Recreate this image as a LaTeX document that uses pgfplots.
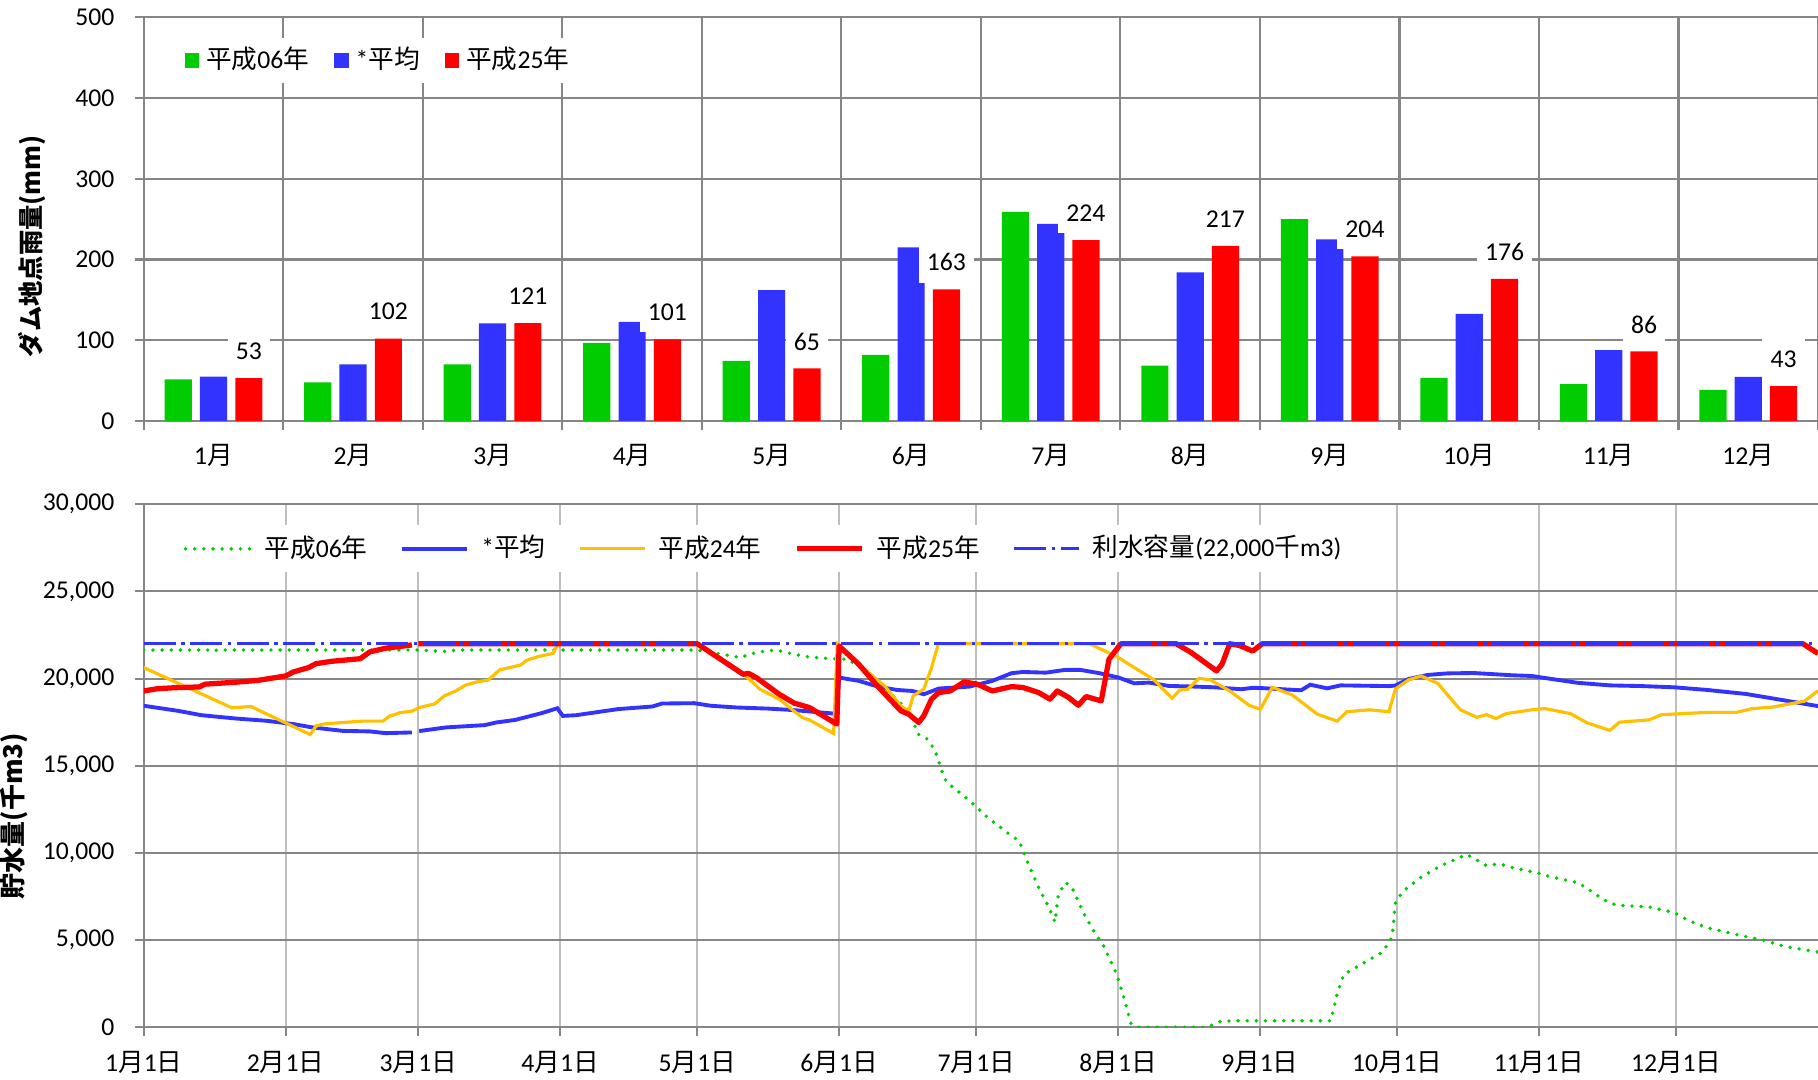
\documentclass[border=0pt]{standalone}
\usepackage{fontspec}
\setmainfont{Carlito}
\newfontfamily\jp{Noto Sans CJK JP}
\usepackage{pgfplots}
\pgfplotsset{compat=1.18}
\definecolor{cgreen}{RGB}{0,204,0}
\definecolor{cblue}{RGB}{51,51,255}
\definecolor{cred}{RGB}{255,0,0}
\definecolor{corange}{RGB}{255,192,0}
\definecolor{gridc}{RGB}{134,134,134}
\definecolor{gridl}{RGB}{190,190,190}
\newcommand{\fs}{\fontsize{7.3}{8.8}\selectfont}
\begin{document}
\begin{tikzpicture}
\useasboundingbox (0,0) rectangle (181.8mm,108mm);
\pgfplotsset{
  /pgf/number format/assume math mode=true,
  /pgf/number format/1000 sep={,},
  scaled ticks=false,
  every axis/.append style={font=\fs},
  tick label style={font=\fs},
  yticklabel style={anchor=east, inner sep=0pt, xshift=-1.98mm},
  xticklabel style={anchor=center, inner sep=0pt, yshift=-2.6mm},
  axis x line*=bottom, axis y line*=left,
  axis line style={gridc, line width=0.6pt},
  tick align=outside,
  tick style={gridc, line width=0.6pt},
  major tick length=0.9mm, minor tick length=0.9mm,
}
%================ TOP: rainfall =================
\begin{axis}[
  at={(14.38mm,65.91mm)}, anchor=south west,
  scale only axis, width=167.42mm, height=40.35mm,
  xmin=0, xmax=12, ymin=0, ymax=500,
  ytick={0,100,200,300,400,500},
  xtick={0.5,1.5,2.5,3.5,4.5,5.5,6.5,7.5,8.5,9.5,10.5,11.5},
  xticklabels={1{\jp 月},2{\jp 月},3{\jp 月},4{\jp 月},5{\jp 月},6{\jp 月},7{\jp 月},8{\jp 月},9{\jp 月},10{\jp 月},11{\jp 月},12{\jp 月}},
  minor xtick={0,1,2,3,4,5,6,7,8,9,10,11,12},
  every major x tick/.append style={draw=none},
  xminorgrids=true, ymajorgrids=true,
  major grid style={gridc, line width=0.6pt},
  minor grid style={gridc, line width=0.6pt},
  ylabel={\jp\bfseries ダム地点雨量(mm)},
  every axis y label/.style={at={(axis description cs:-0.0665,0.433)}, rotate=90, anchor=center, font=\fontsize{7.2}{9}\selectfont},
  legend columns=3,
  legend style={at={(0.0186,0.951)}, anchor=north west, draw=none, fill=white,
    inner xsep=0.9mm, inner ysep=0.6mm, font=\fs,
    nodes={inner xsep=0pt, inner ysep=0.3mm},
    /tikz/every odd column/.append style={column sep=0.7mm},
    /tikz/every even column/.append style={column sep=2.5mm}},
  legend cell align=left,
]
\addplot[ybar, bar width=2.72mm, bar shift=0pt, fill=cgreen, draw=none,
  legend image code/.code={\fill[cgreen] (0mm,-0.72mm) rectangle (1.45mm,0.72mm);}]
  coordinates {(0.247,51.5) (1.247,47.8) (2.247,70) (3.247,96.8) (4.247,74.4) (5.247,81.8) (6.247,259) (7.247,68.6) (8.247,250) (9.247,53.3) (10.247,45.5) (11.247,38.4)};
\addlegendentry{{\jp 平成}06{\jp 年}}
\addplot[ybar, bar width=2.72mm, bar shift=0pt, fill=cblue, draw=none,
  legend image code/.code={\fill[cblue] (0mm,-0.72mm) rectangle (1.45mm,0.72mm);}]
  coordinates {(0.5,54.8) (1.5,70) (2.5,120.7) (3.5,122.8) (4.5,162) (5.5,214.9) (6.5,244) (7.5,183.9) (8.5,224.8) (9.5,132.6) (10.5,87.6) (11.5,54.5)};
\addlegendentry{*{\jp 平均}}
\addplot[ybar, bar width=2.72mm, bar shift=0pt, fill=cred, draw=none,
  legend image code/.code={\fill[cred] (0mm,-0.72mm) rectangle (1.45mm,0.72mm);},
  nodes near coords,
  nodes near coords style={font=\fs, fill=white, inner xsep=0.82mm, inner ysep=1.15mm, anchor=center, yshift=2.7mm}]
  coordinates {(0.753,53) (1.753,102) (2.753,121) (3.753,101) (4.753,65) (5.753,163) (6.753,224) (7.753,217) (8.753,204) (9.753,176) (10.753,86) (11.753,43)};
\addlegendentry{{\jp 平成}25{\jp 年}}
\end{axis}
%================ BOTTOM: storage =================
\begin{axis}[
  at={(14.38mm,5.28mm)}, anchor=south west,
  scale only axis, width=167.42mm, height=52.29mm,
  xmin=0, xmax=366, ymin=0, ymax=30000,
  ytick={0,5000,10000,15000,20000,25000,30000},
  xtick={0,31,60,91,121,152,182,213,244,274,305,335},
  xticklabels={1{\jp 月}1{\jp 日},2{\jp 月}1{\jp 日},3{\jp 月}1{\jp 日},4{\jp 月}1{\jp 日},5{\jp 月}1{\jp 日},6{\jp 月}1{\jp 日},7{\jp 月}1{\jp 日},8{\jp 月}1{\jp 日},9{\jp 月}1{\jp 日},10{\jp 月}1{\jp 日},11{\jp 月}1{\jp 日},12{\jp 月}1{\jp 日}},
  xmajorgrids=true, ymajorgrids=true,
  x grid style={gridl, line width=0.6pt},
  y grid style={gridc, line width=0.6pt},
  unbounded coords=jump,
  ylabel={\jp\bfseries 貯水量(千m3)},
  every axis y label/.style={at={(axis description cs:-0.0775,0.404)}, rotate=90, anchor=center, font=\fontsize{7.4}{9}\selectfont},
  legend columns=5,
  legend style={at={(0.0186,0.961)}, anchor=north west, draw=none, fill=white,
    inner xsep=0.8mm, inner ysep=0.7mm, font=\fs,
    nodes={inner xsep=0pt, inner ysep=0.3mm},
    /tikz/every odd column/.append style={column sep=1.2mm},
    /tikz/every even column/.append style={column sep=3.3mm}},
  legend cell align=left,
  legend image code/.code={\draw[#1] (0mm,0mm) -- (6.5mm,0mm);},
]
\addplot[cgreen, line width=1.1pt, line cap=round, dash pattern=on 0pt off 2.6pt] coordinates {
(0,21640) (14,21640) (15,21530) (16,21640) (60,21640) (65.3,21560) (67,21560) (68,21640) (121,21640) (125.6,21430) (130.6,21200) (132.2,21390) (136.4,21620) (138.9,21600) (142.2,21390) (145.5,21240) (149.7,21150) (153.8,21110) (156.3,20730) (159.7,19960) (163.8,19010) (167.2,18150) (169.3,16810) (171.3,16530) (173,15860) (174.3,14810) (175.5,14050) (177.3,13680) (180.8,12930) (184.3,12070) (188.5,11210) (191.4,10670) (193.5,9270) (195.7,7970) (197.8,6900) (199.2,6030) (199.9,7540) (201.4,8300) (202.8,8080) (205.6,6470) (207.7,5500) (209.9,4630) (212.7,3020) (214.1,1830) (215.8,220) (216.9,0) (232.5,0) (235.3,320) (238.2,370) (259.5,370) (260.9,1940) (262.3,3020) (265.1,3450) (268,3880) (270.8,4310) (272.9,5170) (273.6,7110) (275.1,7760) (279.3,8620) (283.6,9270) (286.4,9590) (289.2,9910) (291.4,9590) (293.5,9270) (296.3,9370) (299.2,9160) (304.8,8840) (307.7,8620) (313.4,8300) (315.5,7970) (319,7330) (321.9,7000) (329,6900) (334.6,6570) (337.5,6140) (341.7,5710) (348.8,5280) (354.5,4960) (358.7,4630) (366,4310)
};
\addlegendentry{{\jp 平成}06{\jp 年}}
\addplot[cblue, line width=1.1pt] coordinates {
(0,18440) (7.5,18150) (12.6,17900) (20.1,17710) (26.8,17580) (32.7,17390) (36.8,17200) (43.5,17000) (49.4,16970) (52.8,16870) (58.6,16910) (59.3,nan) (60.2,16990) (66.1,17200) (74.5,17330) (77,17480) (81.2,17630) (87,18020) (90.4,18300) (91.6,17860) (94.5,17900) (103.7,18250) (111.2,18400) (113.3,18570) (120.3,18590) (124,18440) (129.7,18340) (136.4,18280) (142.2,18190) (150.5,18000) (151.5,17990) (152,20060) (156.3,19870) (160.5,19540) (164.6,19350) (168,19290) (170.5,19100) (173.8,19430) (180.5,19540) (185.5,19870) (189.7,20310) (192.2,20380) (197.2,20340) (201.4,20500) (204.7,20500) (208.9,20310) (213.1,20060) (216.5,19730) (219.8,19770) (224,19580) (229.9,19540) (234.1,19500) (239.9,19390) (242.4,19470) (244,19460) (253,19330) (255,19650) (258.7,19440) (261.6,19610) (272.2,19570) (273.6,19600) (276.5,19980) (280.7,20210) (285,20300) (290.7,20320) (299.2,20190) (303.4,20150) (307.7,19980) (313.4,19760) (320.5,19610) (327.5,19570) (334.6,19500) (341.7,19350) (350.2,19120) (357.3,18810) (366,18420)
};
\addlegendentry{*{\jp 平均}}
\addplot[corange, line width=0.9pt] coordinates {
(0,20630) (19.3,18320) (23.4,18400) (36.4,16790) (37.7,17290) (39.4,17400) (43.5,17480) (47.7,17560) (52.3,17560) (53.6,17830) (56.1,18050) (58.6,18130) (60.25,18340) (63.6,18550) (65.7,19010) (68.2,19290) (70.3,19620) (72.8,19810) (75.3,19920) (77.8,20500) (79.9,20630) (82.4,20780) (83.7,21050) (86.2,21260) (89.5,21450) (90.3,21870) (91,22000) (121,22000) (126,21200) (131,20300) (134.7,19390) (138.9,18820) (143.9,17770) (145.5,17630) (150.8,16850) (151.6,22000) (156.3,20820) (162.1,19540) (165.5,18440) (167.2,18110) (168.2,19010) (170.5,19390) (172.2,20630) (173.7,22000) (206.8,22000) (213.1,21200) (216.9,20570) (220.7,19960) (224.8,18870) (226.5,19350) (228.2,19390) (230.7,20020) (233.2,19920) (237.4,19290) (241.6,18470) (244.1,18240) (246.7,19500) (251,19070) (256.6,17950) (260.9,17560) (263,18100) (268,18210) (272.2,18100) (273.6,19400) (276.5,19930) (279.3,20150) (282.9,19720) (287.8,18210) (291.4,17780) (293.5,17930) (295.6,17710) (297.8,17990) (303.4,18210) (306.3,18280) (311.9,17990) (315.5,17460) (320.5,17030) (322.6,17500) (329,17630) (331.8,17930) (341.7,18060) (348.1,18060) (351.7,18280) (355.9,18360) (363,18700) (366,19300)
};
\addlegendentry{{\jp 平成}24{\jp 年}}
\addplot[cred, line width=1.5pt, line join=round] coordinates {
(0,19290) (3,19420) (7,19480) (12.1,19520) (13.4,19680) (20.5,19800) (25,19900) (31,20150) (32.7,20380) (36,20630) (37.7,20860) (41,20990) (47.3,21140) (49.4,21530) (52.8,21740) (58.6,21930) (59.3,nan) (60,22000) (121,22000) (129.7,20480) (131,20250) (132.2,20300) (133.9,20060) (138.9,19100) (142.2,18590) (145.5,18340) (151.5,17390) (152,21870) (156.3,20820) (160.5,19540) (165.5,18150) (167.2,17960) (169.4,17480) (170.5,17860) (172.2,18820) (173.8,19200) (176.3,19290) (179.3,19810) (182.2,19680) (185.5,19290) (189.7,19540) (192.2,19490) (195.6,19200) (198.1,18820) (199.7,19290) (202.2,18910) (204.3,18470) (206,18970) (209.3,18720) (211,21110) (213.6,22000) (225.7,22000) (229,21490) (234.5,20440) (235.7,20820) (237.4,22000) (239.5,21900) (242.4,21580) (244.5,22000) (362.7,22000) (366,21440)
};
\addlegendentry{{\jp 平成}25{\jp 年}}
\addplot[cblue, line width=0.8pt, dash pattern=on 3.2mm off 0.55mm on 0.35mm off 0.55mm] coordinates {(0,22000) (366,22000)};
\addlegendentry{{\jp 利水容量}(22,000{\jp 千}m3)}
\end{axis}
\end{tikzpicture}
\end{document}
